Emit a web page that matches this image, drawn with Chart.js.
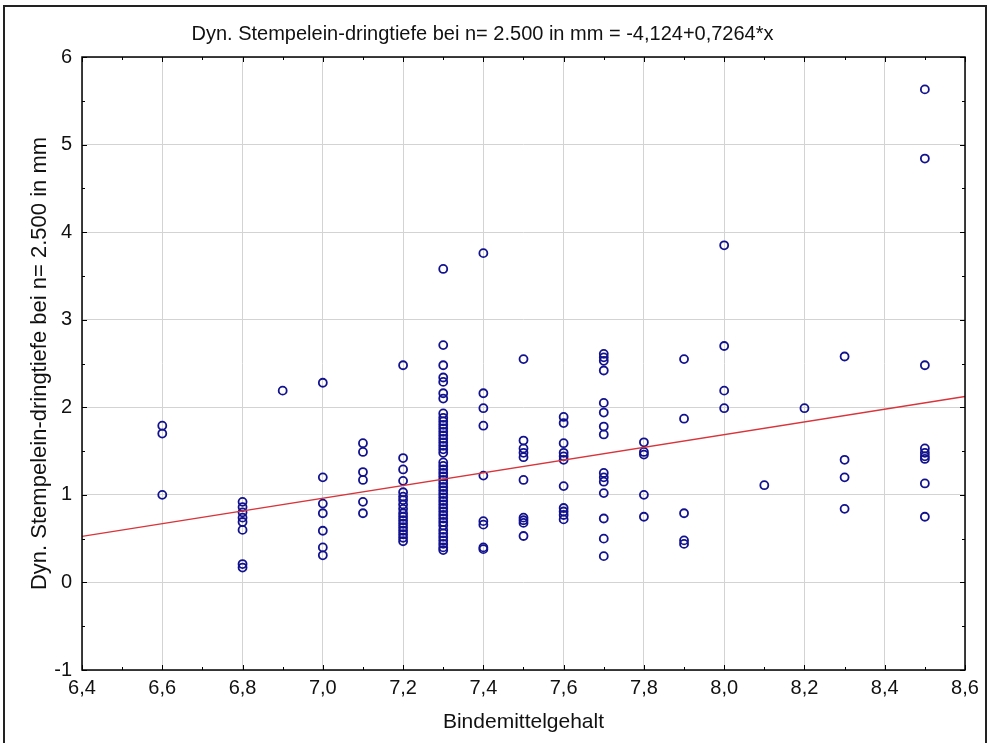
<!DOCTYPE html>
<html>
<head>
<meta charset="utf-8">
<script src="https://cdn.jsdelivr.net/npm/chart.js@4.4.1/dist/chart.umd.min.js"></script>
<style>
  html, body { margin: 0; padding: 0; background: #fff; overflow: hidden; }
  #wrap { position: relative; width: 989px; height: 743px; }
  #frame { position: absolute; left: 3px; top: 5px; width: 980px; height: 760px;
           border: 2px solid #222; pointer-events: none; }
</style>
</head>
<body>
<div id="wrap">
  <canvas id="myChart" width="989" height="743"></canvas>
  <div id="frame"></div>
</div>
<script>
//Data (Bindemittelgehalt -> Eindringtiefe in mm)
const binderValues = [6.6, 6.8, 6.9, 7.0, 7.1, 7.2, 7.3, 7.4, 7.5, 7.6, 7.7, 7.8, 7.9, 8.0, 8.1, 8.2, 8.3, 8.5];

const depth66 = [1.79, 1.70, 1.00];
const depth68 = [0.92, 0.86, 0.80, 0.74, 0.69, 0.60, 0.21, 0.17];
const depth69 = [2.19];
const depth70 = [2.28, 1.20, 0.90, 0.79, 0.59, 0.40, 0.31];
const depth71 = [1.59, 1.49, 1.26, 1.17, 0.92, 0.79];
const depth72 = [2.48, 1.42, 1.29, 1.16, 1.03, 0.98, 0.94, 0.89, 0.84, 0.79, 0.75, 0.71, 0.67, 0.63, 0.59, 0.55, 0.51, 0.47];
const depth73 = [3.58, 2.71, 2.48, 2.34, 2.29, 2.16, 2.10, 1.93, 1.88, 1.84, 1.80, 1.76, 1.72, 1.68, 1.64, 1.60, 1.56, 1.52, 1.48,
                 1.37, 1.33, 1.29, 1.25, 1.21, 1.17, 1.13, 1.09, 1.05, 1.01, 0.97, 0.93, 0.89, 0.85, 0.81, 0.77, 0.73, 0.69,
                 0.65, 0.60, 0.56, 0.52, 0.48, 0.44, 0.40, 0.37];
const depth74 = [3.76, 2.16, 1.99, 1.79, 1.22, 0.70, 0.66, 0.40, 0.38];
const depth75 = [2.55, 1.62, 1.53, 1.48, 1.43, 1.17, 0.74, 0.71, 0.68, 0.53];
const depth76 = [1.89, 1.82, 1.59, 1.48, 1.44, 1.40, 1.10, 0.85, 0.81, 0.77, 0.72];
const depth77 = [2.61, 2.57, 2.53, 2.42, 2.05, 1.94, 1.78, 1.69, 1.25, 1.20, 1.15, 1.02, 0.73, 0.50, 0.30];
const depth78 = [1.60, 1.49, 1.46, 1.00, 0.75];
const depth79 = [2.55, 1.87, 0.79, 0.48, 0.44];
const depth80 = [3.85, 2.70, 2.19, 1.99];
const depth81 = [1.11];
const depth82 = [1.99];
const depth83 = [2.58, 1.40, 1.20, 0.84];
const depth85 = [5.63, 4.84, 2.48, 1.53, 1.48, 1.44, 1.41, 1.13, 0.75];

const depthColumns = [depth66, depth68, depth69, depth70, depth71, depth72, depth73, depth74, depth75,
                      depth76, depth77, depth78, depth79, depth80, depth81, depth82, depth83, depth85];

//regression from the title: y = -4,124 + 0,7264*x
const fitIntercept = -4.124;
const fitSlope = 0.7264;
const fitRange = [6.4, 8.6];

const titleText = "Dyn. Stempelein-dringtiefe bei n= 2.500 in mm = -4,124+0,7264*x";
const xTitle = "Bindemittelgehalt";
const yTitle = "Dyn. Stempelein-dringtiefe bei n= 2.500 in mm";

//build points
let scatterPoints = [];
binderValues.forEach((bx, i) => {
    depthColumns[i].forEach(v => scatterPoints.push({x: bx, y: v}));
});
let fitPoints = fitRange.map(v => ({x: v, y: fitIntercept + fitSlope * v}));

const fontFamily = "'Liberation Sans', Arial, sans-serif";

//frame + inner tick marks
const frameTicks = {
    id: 'frameTicks',
    afterDatasetsDraw(chart) {
        const {ctx, chartArea: a, scales} = chart;
        ctx.save();
        ctx.strokeStyle = '#000';
        ctx.lineWidth = 1;
        ctx.beginPath();
        for (let v = 6.4; v <= 8.6 + 1e-6; v += 0.1) {
            const px = Math.round(scales.x.getPixelForValue(v)) + 0.5;
            const major = Math.abs(Math.round(v * 5) - v * 5) < 1e-6;
            const len = major ? 5 : 3;
            ctx.moveTo(px, a.bottom); ctx.lineTo(px, a.bottom - len);
            ctx.moveTo(px, a.top); ctx.lineTo(px, a.top + len);
        }
        for (let v = -1; v <= 6 + 1e-6; v += 0.5) {
            const py = Math.round(scales.y.getPixelForValue(v)) + 0.5;
            const len = Number.isInteger(v) ? 5 : 3;
            ctx.moveTo(a.left, py); ctx.lineTo(a.left + len, py);
            ctx.moveTo(a.right, py); ctx.lineTo(a.right - len, py);
        }
        ctx.stroke();
        ctx.lineWidth = 1.5;
        ctx.strokeRect(a.left, a.top, a.right - a.left, a.bottom - a.top);
        ctx.restore();
    }
};

let canvasElement = document.getElementById("myChart").getContext('2d');
let config = {
    type: 'scatter',
    data: {
        datasets: [{
                type: 'line',
                label: 'fit',
                data: fitPoints,
                borderColor: '#d8343a',
                borderWidth: 1.3,
                pointRadius: 0,
                fill: false,
                order: 1
            },
            {
                label: 'Messwerte',
                data: scatterPoints,
                pointStyle: 'circle',
                pointRadius: 4,
                pointBorderWidth: 1.8,
                borderColor: '#12128f',
                backgroundColor: 'rgba(0,0,0,0)',
                order: 2
            }
        ]
    },
    options: {
        responsive: false,
        animation: false,
        layout: { padding: { left: 0, right: 24, top: 0, bottom: 0 } },
        plugins: {
            legend: { display: false },
            tooltip: { enabled: false },
            title: {
                display: true,
                text: titleText,
                color: '#111',
                font: { family: fontFamily, size: 20, weight: 'normal' },
                padding: { top: 22, bottom: 11 }
            }
        },
        scales: {
            x: {
                type: 'linear',
                min: 6.4,
                max: 8.6,
                afterFit(scale) { scale.height = 73; },
                grid: { color: '#d3d3d3', drawTicks: false },
                border: { display: false },
                ticks: {
                    stepSize: 0.2,
                    padding: 6,
                    color: '#111',
                    font: { family: fontFamily, size: 20 },
                    callback: v => Number(v).toFixed(1).replace('.', ',')
                },
                title: {
                    display: true,
                    text: xTitle,
                    color: '#111',
                    font: { family: fontFamily, size: 21 },
                    padding: { top: 4, bottom: 8 }
                }
            },
            y: {
                min: -1,
                max: 6,
                afterFit(scale) { scale.width = 82; },
                grid: { color: '#d3d3d3', drawTicks: false },
                border: { display: false },
                ticks: {
                    stepSize: 1,
                    padding: 10,
                    color: '#111',
                    font: { family: fontFamily, size: 20 }
                },
                title: {
                    display: true,
                    text: yTitle,
                    color: '#111',
                    font: { family: fontFamily, size: 22 },
                    padding: { top: 27, bottom: 0 }
                }
            }
        }
    },
    plugins: [frameTicks]
};

let myChart = new Chart(canvasElement, config);
</script>
</body>
</html>
